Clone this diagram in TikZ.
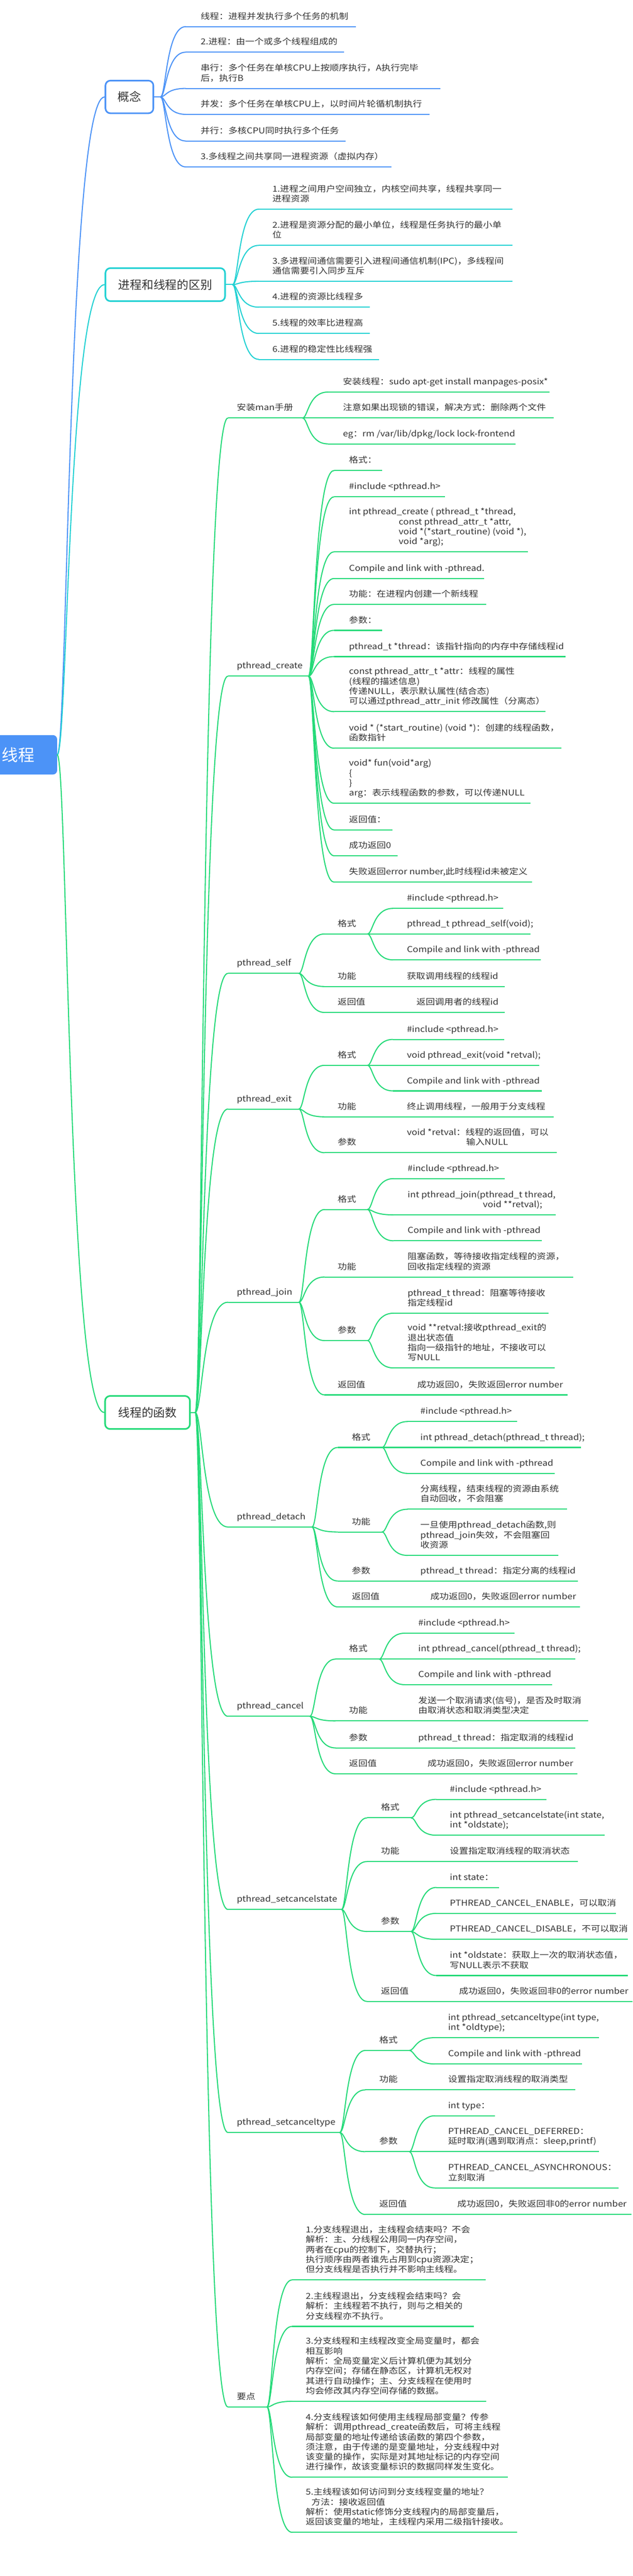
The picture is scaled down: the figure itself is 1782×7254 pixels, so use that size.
\documentclass[tikz,border=0pt]{standalone}
\usepackage{fontspec}
\setmainfont{Noto Sans CJK SC}
\newfontfamily\smf{Noto Sans CJK SC}[FakeStretch=1.13]
\usetikzlibrary{calc}
\definecolor{blueL}{HTML}{4C93F7}
\definecolor{tealL}{HTML}{22D1D3}
\definecolor{greenL}{HTML}{24DA78}
\definecolor{txtc}{HTML}{333333}
\colorlet{br}{blueL}
\newcommand\ml[1]{\vbox{\def\\{\egroup\hbox\bgroup}\hbox\bgroup#1\egroup}}
\newcommand\leaf[6]{%
  \coordinate (#1L) at (#4,#3);
  \coordinate (#1R) at (#5,#3);
  \draw[ul] (#1L) -- (#1R);
  \node[txt] (#1) at (#2,#3-21) {\ml{#6}};}
\newcommand\conn[2]{\draw[cn] (#1) .. controls ($(#1)!0.22!(#1-|#2)$) and ($(#2-|#1)!0.22!(#2)$) .. (#2);}
\tikzset{
  txt/.style={inner sep=0pt, anchor=base west, text=txtc, font=\smf\fontsize{23}{28}\selectfont},
  ul/.style={draw=br, line width=3pt},
  cn/.style={draw=br, line width=3pt, line cap=round},
  rootcn/.style={line width=2.5pt, line cap=round},
  headbox/.style={draw=br, line width=4.5pt, fill=white, rounded corners=14pt, text=txtc, font=\fontsize{33}{40}\selectfont, inner sep=0pt},
  rootn/.style={fill=blueL, rounded corners=12pt, text=white, font=\fontsize{46}{50}\selectfont, inner sep=0pt},
}
\begin{document}
\begin{tikzpicture}[x=1pt,y=-1pt]
\useasboundingbox (0,0) rectangle (1782,7254);
\fill[white] (0,0) rectangle (1782,7254);

% root and first level
\node[rootn, minimum width=219pt, minimum height=111pt] (root) at (51.5,2125.5) {线程};
\colorlet{br}{blueL}
\node[headbox, minimum width=135pt, minimum height=92pt] (gn) at (364.5,273) {概念};
\colorlet{br}{tealL}
\node[headbox, minimum width=337pt, minimum height=93pt] (pr) at (465.5,801.5) {进程和线程的区别};
\colorlet{br}{greenL}
\node[headbox, minimum width=239pt, minimum height=93pt] (fn) at (415.5,3977.5) {线程的函数};

\colorlet{br}{blueL}
\conn{root.east}{gn.west}
\colorlet{br}{tealL}
\conn{root.east}{pr.west}
\colorlet{br}{greenL}
\conn{root.east}{fn.west}

% ===== 概念 =====
\colorlet{br}{blueL}
\coordinate (gnO) at (452,273);
\draw[cn] (gn.east) -- (gnO);
\leaf{a1}{565}{75}{523}{1002}{线程：进程并发执行多个任务的机制}
\leaf{a2}{565}{147}{523}{969}{2.进程：由一个或多个线程组成的}
\leaf{a3}{565}{249}{523}{1241}{串行：多个任务在单核CPU上按顺序执行，A执行完毕\\后，执行B}
\leaf{a4}{565}{322}{523}{1210}{并发：多个任务在单核CPU上，以时间片轮循机制执行}
\leaf{a5}{565}{397}{523}{974}{并行：多核CPU同时执行多个任务}
\leaf{a6}{565}{470}{523}{1102}{3.多线程之间共享同一进程资源（虚拟内存）}
\foreach \n in {a1,a2,a3,a4,a5,a6}{\conn{gnO}{\n L}}

% ===== 进程和线程的区别 =====
\colorlet{br}{tealL}
\coordinate (prO) at (655,801.5);
\draw[cn] (pr.east) -- (prO);
\leaf{b1}{767}{589}{729}{1443}{1.进程之间用户空间独立，内核空间共享，线程共享同一\\进程资源}
\leaf{b2}{767}{691}{729}{1443}{2.进程是资源分配的最小单位，线程是任务执行的最小单\\位}
\leaf{b3}{767}{792}{729}{1443}{3.多进程间通信需要引入进程间通信机制(IPC)，多线程间\\通信需要引入同步互斥}
\leaf{b4}{767}{865}{729}{1042}{4.进程的资源比线程多}
\leaf{b5}{767}{939}{729}{1042}{5.线程的效率比进程高}
\leaf{b6}{767}{1012}{729}{1068}{6.进程的稳定性比线程强}
\foreach \n in {b1,b2,b3,b4,b5,b6}{\conn{prO}{\n L}}

% ===== 线程的函数 =====
\colorlet{br}{greenL}
\coordinate (fnO) at (550,3977.5);
\draw[cn] (fn.east) -- (fnO);
\leaf{c1}{667}{1177}{642}{852}{安装man手册}
\leaf{c2}{667}{1904}{642}{869}{pthread\_create}
\leaf{c3}{667}{2741}{642}{842}{pthread\_self}
\leaf{c4}{667}{3123}{642}{842}{pthread\_exit}
\leaf{c5}{667}{3667}{642}{842}{pthread\_join}
\leaf{c6}{667}{4300}{642}{879}{pthread\_detach}
\leaf{c7}{667}{4833}{642}{873}{pthread\_cancel}
\leaf{c8}{667}{5377}{642}{962}{pthread\_setcancelstate}
\leaf{c9}{667}{6005}{642}{957}{pthread\_setcanceltype}
\leaf{c10}{667}{6778}{642}{752}{要点}
\foreach \n in {c1,c2,c3,c4,c5,c6,c7,c8,c9,c10}{\conn{fnO}{\n L}}

% 安装man手册
\leaf{c1a}{966}{1104}{924}{1548}{安装线程：sudo apt-get install manpages-posix*}
\leaf{c1b}{966}{1177}{924}{1559}{注意如果出现锁的错误，解决方式：删除两个文件}
\leaf{c1c}{966}{1250}{924}{1452}{eg：rm /var/lib/dpkg/lock lock-frontend}
\foreach \n in {c1a,c1b,c1c}{\conn{c1R}{\n L}}

% pthread_create
\leaf{c2a}{983}{1325}{941}{1077}{格式：}
\leaf{c2b}{983}{1399}{941}{1254}{\#include <pthread.h>}
\leaf{c2c}{983}{1554}{941}{1487}{int pthread\_create ( pthread\_t *thread,\\\hspace*{140pt}const pthread\_attr\_t *attr,\\\hspace*{140pt}void *(*start\_routine) (void *),\\\hspace*{140pt}void *arg);}
\leaf{c2d}{983}{1629}{941}{1364}{Compile and link with -pthread.}
\leaf{c2e}{983}{1702}{941}{1369}{功能：在进程内创建一个新线程}
\leaf{c2f}{983}{1775}{941}{1077}{参数：}
\leaf{c2g}{983}{1849}{941}{1593}{pthread\_t *thread：该指针指向的内存中存储线程id}
\leaf{c2h}{983}{2004}{941}{1537}{const pthread\_attr\_t *attr：线程的属性\\(线程的描述信息)\\传递NULL，表示默认属性(结合态)\\可以通过pthread\_attr\_init 修改属性（分离态）}
\leaf{c2i}{983}{2107}{941}{1582}{void * (*start\_routine) (void *)：创建的线程函数，\\函数指针}
\leaf{c2j}{983}{2262}{941}{1494}{void* fun(void*arg)\\\{\\\}\\arg：表示线程函数的参数，可以传递NULL}
\leaf{c2k}{983}{2337}{941}{1105}{返回值：}
\leaf{c2l}{983}{2410}{941}{1120}{成功返回0}
\leaf{c2m}{983}{2484}{941}{1498}{失败返回error number,此时线程id未被定义}
\foreach \n in {c2a,c2b,c2c,c2d,c2e,c2f,c2g,c2h,c2i,c2j,c2k,c2l,c2m}{\conn{c2R}{\n L}}

% pthread_self
\leaf{c3a}{951}{2630}{914}{1035}{格式}
\leaf{c3b}{951}{2778}{914}{1035}{功能}
\leaf{c3c}{951}{2851}{914}{1061}{返回值}
\foreach \n in {c3a,c3b,c3c}{\conn{c3R}{\n L}}
\leaf{c3a1}{1146}{2558}{1107}{1418}{\#include <pthread.h>}
\leaf{c3a2}{1146}{2630}{1107}{1495}{pthread\_t pthread\_self(void);}
\leaf{c3a3}{1146}{2703}{1107}{1524}{Compile and link with -pthread}
\foreach \n in {c3a1,c3a2,c3a3}{\conn{c3aR}{\n L}}
\leaf{c3b1}{1146}{2778}{1107}{1422}{获取调用线程的线程id}
\conn{c3bR}{c3b1L}
\leaf{c3c1}{1173}{2851}{1133}{1422}{返回调用者的线程id}
\conn{c3cR}{c3c1L}

% pthread_exit
\leaf{c4a}{951}{3000}{914}{1035}{格式}
\leaf{c4b}{951}{3145}{914}{1035}{功能}
\leaf{c4c}{951}{3246}{914}{1035}{参数}
\foreach \n in {c4a,c4b,c4c}{\conn{c4R}{\n L}}
\leaf{c4a1}{1146}{2927}{1107}{1420}{\#include <pthread.h>}
\leaf{c4a2}{1146}{3000}{1107}{1519}{void pthread\_exit(void *retval);}
\leaf{c4a3}{1146}{3072}{1107}{1526}{Compile and link with -pthread}
\foreach \n in {c4a1,c4a2,c4a3}{\conn{c4aR}{\n L}}
\leaf{c4b1}{1146}{3145}{1107}{1560}{终止调用线程，一般用于分支线程}
\conn{c4bR}{c4b1L}
\leaf{c4c1}{1146}{3246}{1107}{1568}{void *retval：线程的返回值，可以\\\hspace*{167pt}输入NULL}
\conn{c4cR}{c4c1L}

% pthread_join
\leaf{c5a}{951}{3406}{914}{1035}{格式}
\leaf{c5b}{951}{3596}{914}{1035}{功能}
\leaf{c5c}{951}{3775}{914}{1035}{参数}
\leaf{c5d}{951}{3928}{914}{1061}{返回值}
\foreach \n in {c5a,c5b,c5c,c5d}{\conn{c5R}{\n L}}
\leaf{c5a1}{1148}{3319}{1108}{1422}{\#include <pthread.h>}
\leaf{c5a2}{1148}{3421}{1108}{1565}{int pthread\_join(pthread\_t thread,\\\hspace*{212pt}void **retval);}
\leaf{c5a3}{1148}{3494}{1108}{1526}{Compile and link with -pthread}
\foreach \n in {c5a1,c5a2,c5a3}{\conn{c5aR}{\n L}}
\leaf{c5b1}{1148}{3596}{1108}{1615}{阻塞函数，等待接收指定线程的资源，\\回收指定线程的资源}
\conn{c5bR}{c5b1L}
\leaf{c5c1}{1148}{3698}{1108}{1545}{pthread\_t thread：阻塞等待接收\\指定线程id}
\leaf{c5c2}{1148}{3852}{1108}{1562}{void **retval:接收pthread\_exit的\\退出状态值\\指向一级指针的地址，不接收可以\\写NULL}
\foreach \n in {c5c1,c5c2}{\conn{c5cR}{\n L}}
\leaf{c5d1}{1175}{3928}{1133}{1599}{成功返回0，失败返回error number}
\conn{c5dR}{c5d1L}

% pthread_detach
\leaf{c6a}{991}{4076}{951}{1076}{格式}
\leaf{c6b}{991}{4314}{951}{1076}{功能}
\leaf{c6c}{991}{4452}{951}{1076}{参数}
\leaf{c6d}{991}{4525}{951}{1102}{返回值}
\foreach \n in {c6a,c6b,c6c,c6d}{\conn{c6R}{\n L}}
\leaf{c6a1}{1184}{4003}{1148}{1456}{\#include <pthread.h>}
\leaf{c6a2}{1184}{4076}{1148}{1636}{int pthread\_detach(pthread\_t thread);}
\leaf{c6a3}{1184}{4149}{1148}{1562}{Compile and link with -pthread}
\foreach \n in {c6a1,c6a2,c6a3}{\conn{c6aR}{\n L}}
\leaf{c6b1}{1184}{4250}{1148}{1597}{分离线程，结束线程的资源由系统\\自动回收，不会阻塞}
\leaf{c6b2}{1184}{4380}{1148}{1573}{一旦使用pthread\_detach函数,则\\pthread\_join失效，不会阻塞回\\收资源}
\foreach \n in {c6b1,c6b2}{\conn{c6bR}{\n L}}
\leaf{c6c1}{1184}{4452}{1148}{1628}{pthread\_t thread：指定分离的线程id}
\conn{c6cR}{c6c1L}
\leaf{c6d1}{1212}{4525}{1174}{1633}{成功返回0，失败返回error number}
\conn{c6dR}{c6d1L}

% pthread_cancel
\leaf{c7a}{983}{4672}{945}{1068}{格式}
\leaf{c7b}{983}{4846}{945}{1068}{功能}
\leaf{c7c}{983}{4922}{945}{1068}{参数}
\leaf{c7d}{983}{4995}{945}{1094}{返回值}
\foreach \n in {c7a,c7b,c7c,c7d}{\conn{c7R}{\n L}}
\leaf{c7a1}{1178}{4599}{1140}{1449}{\#include <pthread.h>}
\leaf{c7a2}{1178}{4672}{1140}{1621}{int pthread\_cancel(pthread\_t thread);}
\leaf{c7a3}{1178}{4744}{1140}{1555}{Compile and link with -pthread}
\foreach \n in {c7a1,c7a2,c7a3}{\conn{c7aR}{\n L}}
\leaf{c7b1}{1178}{4846}{1140}{1657}{发送一个取消请求(信号)，是否及时取消\\由取消状态和取消类型决定}
\conn{c7bR}{c7b1L}
\leaf{c7c1}{1178}{4922}{1140}{1621}{pthread\_t thread：指定取消的线程id}
\conn{c7cR}{c7c1L}
\leaf{c7d1}{1204}{4995}{1166}{1626}{成功返回0，失败返回error number}
\conn{c7dR}{c7d1L}

% pthread_setcancelstate
\leaf{c8a}{1073}{5119}{1034}{1158}{格式}
\leaf{c8b}{1073}{5242}{1034}{1158}{功能}
\leaf{c8c}{1073}{5439}{1034}{1158}{参数}
\leaf{c8d}{1073}{5636}{1034}{1184}{返回值}
\foreach \n in {c8a,c8b,c8c,c8d}{\conn{c8R}{\n L}}
\leaf{c8a1}{1267}{5067}{1229}{1539}{\#include <pthread.h>}
\leaf{c8a2}{1267}{5168}{1229}{1703}{int pthread\_setcancelstate(int state,\\int *oldstate);}
\foreach \n in {c8a1,c8a2}{\conn{c8aR}{\n L}}
\leaf{c8b1}{1267}{5242}{1229}{1628}{设置指定取消线程的取消状态}
\conn{c8bR}{c8b1L}
\leaf{c8c1}{1267}{5315}{1229}{1406}{int state：}
\leaf{c8c2}{1267}{5388}{1229}{1735}{PTHREAD\_CANCEL\_ENABLE，可以取消}
\leaf{c8c3}{1267}{5461}{1229}{1768}{PTHREAD\_CANCEL\_DISABLE，不可以取消}
\leaf{c8c4}{1267}{5563}{1229}{1768}{int *oldstate：获取上一次的取消状态值，\\写NULL表示不获取}
\foreach \n in {c8c1,c8c2,c8c3,c8c4}{\conn{c8cR}{\n L}}
\leaf{c8d1}{1293}{5636}{1255}{1782}{成功返回0，失败返回非0的error number}
\conn{c8dR}{c8d1L}

% pthread_setcanceltype
\leaf{c9a}{1068}{5774}{1029}{1153}{格式}
\leaf{c9b}{1068}{5885}{1029}{1153}{功能}
\leaf{c9c}{1068}{6059}{1029}{1153}{参数}
\leaf{c9d}{1068}{6236}{1029}{1179}{返回值}
\foreach \n in {c9a,c9b,c9c,c9d}{\conn{c9R}{\n L}}
\leaf{c9a1}{1262}{5738}{1224}{1687}{int pthread\_setcanceltype(int type,\\int *oldtype);}
\leaf{c9a2}{1262}{5812}{1224}{1640}{Compile and link with -pthread}
\foreach \n in {c9a1,c9a2}{\conn{c9aR}{\n L}}
\leaf{c9b1}{1262}{5885}{1224}{1621}{设置指定取消线程的取消类型}
\conn{c9bR}{c9b1L}
\leaf{c9c1}{1262}{5958}{1224}{1394}{int type：}
\leaf{c9c2}{1262}{6059}{1224}{1687}{PTHREAD\_CANCEL\_DEFERRED：\\延时取消(遇到取消点：sleep,printf)}
\leaf{c9c3}{1262}{6161}{1224}{1742}{PTHREAD\_CANCEL\_ASYNCHRONOUS：\\立刻取消}
\foreach \n in {c9c1,c9c2,c9c3}{\conn{c9cR}{\n L}}
\leaf{c9d1}{1288}{6236}{1250}{1779}{成功返回0，失败返回非0的error number}
\conn{c9dR}{c9d1L}

% 要点
\leaf{c10a}{861}{6420}{823}{1368}{1.分支线程退出，主线程会结束吗？不会\\解析：主、分线程公用同一内存空间，\\两者在cpu的控制下，交替执行；\\执行顺序由两者谁先占用到cpu资源决定；\\但分支线程是否执行并不影响主线程。}
\leaf{c10b}{861}{6551}{823}{1334}{2.主线程退出，分支线程会结束吗？会\\解析：主线程若不执行，则与之相关的\\分支线程亦不执行。}
\leaf{c10c}{861}{6762}{823}{1370}{3.分支线程和主线程改变全局变量时，都会\\相互影响\\解析：全局变量定义后计算机便为其划分\\内存空间；存储在静态区，计算机无权对\\其进行自动操作；主、分支线程在使用时\\均会修改其内存空间存储的数据。}
\leaf{c10d}{861}{6976}{823}{1430}{4.分支线程该如何使用主线程局部变量？传参\\解析：调用pthread\_create函数后，可将主线程\\局部变量的地址传递给该函数的第四个参数，\\须注意，由于传递的是变量地址，分支线程中对\\该变量的操作，实际是对其地址标记的内存空间\\进行操作，故该变量标识的数据同样发生变化。}
\leaf{c10e}{861}{7131}{823}{1456}{5.主线程该如何访问到分支线程变量的地址？\\\hspace*{16pt}方法：接收返回值\\解析：使用static修饰分支线程内的局部变量后，\\返回该变量的地址，主线程内采用二级指针接收。}
\foreach \n in {c10a,c10b,c10c,c10d,c10e}{\conn{c10R}{\n L}}
\end{tikzpicture}
\end{document}
